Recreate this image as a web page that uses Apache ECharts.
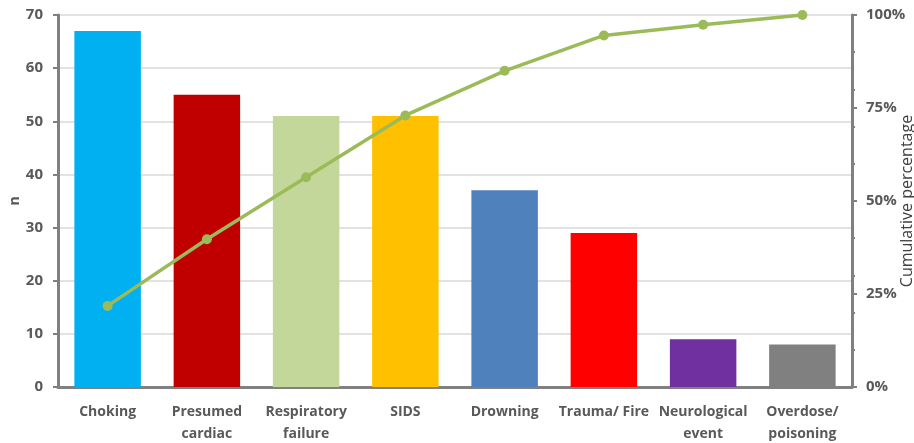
<!DOCTYPE html>
<html>
<head>
<meta charset="utf-8">
<script src="https://cdn.jsdelivr.net/npm/echarts@6/dist/echarts.min.js"></script>
<style>
  html, body { margin: 0; padding: 0; background: #fff; }
  #chart { width: 914px; height: 443px; }
</style>
</head>
<body>
<div id="chart"></div>
<script>
// Causes, counts and running share of the total
const categories = ['Choking', 'Presumed\ncardiac', 'Respiratory\nfailure', 'SIDS', 'Drowning', 'Trauma/ Fire', 'Neurological\nevent', 'Overdose/\npoisoning'];
const counts = [67, 55, 51, 51, 37, 29, 9, 8];
const cumulativePct = [21.8, 39.7, 56.4, 73.0, 85.0, 94.5, 97.4, 100];
const barColors = ['#00B0F0', '#C00000', '#C4D79B', '#FFC000', '#4F81BD', '#FF0000', '#7030A0', '#808080'];
const leftTicks = [0, 70, 10];
const rightTicks = [0, 100, 25];

const axisGray = '#808080';
const textGray = '#595959';
const fontFamily = '"Open Sans", "Liberation Sans", sans-serif';

const chart = echarts.init(document.getElementById('chart'), null, { renderer: 'canvas' });

chart.setOption({
  animation: false,
  grid: { left: 58, right: 62, top: 15, bottom: 56, outerBoundsMode: 'none', containLabel: false },
  xAxis: {
    type: 'category',
    data: categories,
    boundaryGap: true,
    axisLine: { lineStyle: { color: axisGray, width: 3 } },
    axisTick: { show: false },
    axisLabel: {
      interval: 0,
      color: textGray,
      fontFamily: fontFamily,
      fontWeight: 'bold',
      fontSize: 14,
      lineHeight: 22,
      margin: 14
    }
  },
  yAxis: [
    {
      type: 'value',
      min: leftTicks[0], max: leftTicks[1], interval: leftTicks[2],
      name: 'n',
      nameLocation: 'middle',
      nameGap: 36,
      nameRotate: 90,
      nameMoveOverlap: false,
      nameTextStyle: { color: textGray, fontFamily: fontFamily, fontWeight: 'bold', fontSize: 14 },
      axisLine: { show: true, lineStyle: { color: axisGray, width: 3 } },
      axisTick: { show: true, length: 5, lineStyle: { color: axisGray, width: 2 } },
      axisLabel: { color: textGray, fontFamily: fontFamily, fontWeight: 'bold', fontSize: 15, margin: 15 },
      splitLine: { show: true, lineStyle: { color: '#D9D9D9', width: 1.5 } }
    },
    {
      type: 'value',
      position: 'right',
      min: rightTicks[0], max: rightTicks[1], interval: rightTicks[2],
      name: 'Cumulative percentage',
      nameLocation: 'middle',
      nameGap: 47,
      nameRotate: 90,
      nameMoveOverlap: false,
      nameTextStyle: { color: '#404040', fontFamily: fontFamily, fontSize: 16 },
      axisLine: { show: true, lineStyle: { color: axisGray, width: 3 } },
      axisTick: { show: true, length: 5, lineStyle: { color: axisGray, width: 2 } },
      axisLabel: { color: textGray, fontFamily: fontFamily, fontWeight: 'bold', fontSize: 15, margin: 14, formatter: '{value}%' },
      splitLine: { show: false }
    },
    {
      // finer tick marks every 10% along the right axis
      type: 'value',
      position: 'right',
      min: 0, max: 100, interval: 10,
      axisLine: { show: false },
      axisTick: { show: true, length: 3, lineStyle: { color: axisGray, width: 2 } },
      axisLabel: { show: false },
      splitLine: { show: false }
    }
  ],
  series: [
    {
      type: 'bar',
      yAxisIndex: 0,
      barWidth: '67%',
      data: counts.map((v, i) => ({ value: v, itemStyle: { color: barColors[i] } }))
    },
    {
      type: 'line',
      yAxisIndex: 1,
      data: cumulativePct,
      symbol: 'circle',
      symbolSize: 10,
      lineStyle: { color: '#9BBB59', width: 3.5 },
      itemStyle: { color: '#9BBB59' }
    }
  ]
});
</script>
</body>
</html>
